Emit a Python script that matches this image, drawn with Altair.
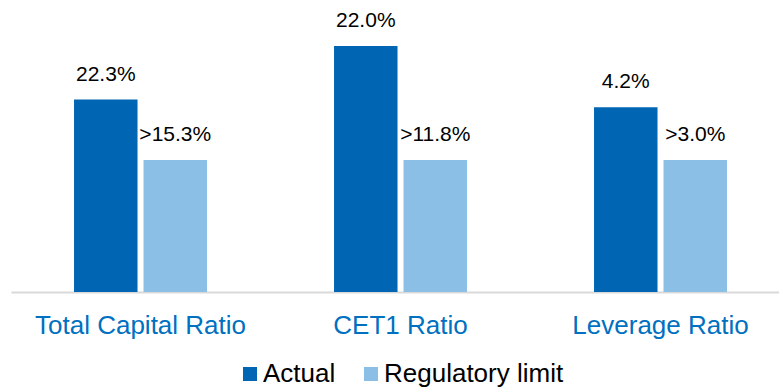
import altair as alt
import pandas as pd

# Capital ratios: actual level vs. regulatory minimum
categories = ["Total Capital Ratio", "CET1 Ratio", "Leverage Ratio"]
actual = [22.3, 22.0, 4.2]
regulatory_limit = [15.3, 11.8, 3.0]
series = ["Actual", "Regulatory limit"]

rows = []
for cat, a, r in zip(categories, actual, regulatory_limit):
    rows.append({"category": cat, "series": series[0], "value": a, "limit": r,
                 "label": f"{a:.1f}%"})
    rows.append({"category": cat, "series": series[1], "value": r, "limit": r,
                 "label": f">{r:.1f}%"})
df = pd.DataFrame(rows)

FONT = "Liberation Sans"

# Each group is scaled relative to its own regulatory minimum
base = alt.Chart(df).transform_calculate(rel="datum.value / datum.limit")

x_enc = alt.X("category:N", sort=categories, title=None,
              scale=alt.Scale(paddingInner=0.4885, paddingOuter=0.2212, align=0.548),
              axis=alt.Axis(labelAngle=0, labelFontSize=26, labelColor="#0070C0",
                            labelFont=FONT, labelPadding=20, labelLimit=0,
                            ticks=False, domainColor="#D9D9D9", domainWidth=2))
xo_enc = alt.XOffset("series:N", sort=series,
                     scale=alt.Scale(paddingInner=0.0863, paddingOuter=0))
y_enc = alt.Y("rel:Q", scale=alt.Scale(domain=[0, 2.2121], nice=False, zero=True),
              axis=None)

bars = base.mark_bar().encode(
    x=x_enc, xOffset=xo_enc, y=y_enc,
    color=alt.Color("series:N", sort=series, title=None,
                    scale=alt.Scale(domain=series, range=["#0066B3", "#8BBFE6"]),
                    legend=alt.Legend(orient="none", direction="horizontal",
                                      legendX=226, legendY=361, padding=0,
                                      symbolType="square", symbolSize=196,
                                      symbolStrokeWidth=0, labelFontSize=26,
                                      labelFont=FONT, labelColor="#000000",
                                      labelLimit=0, columnPadding=22,
                                      labelOffset=0)),
)

labels = base.mark_text(fontSize=21, font=FONT, color="#000000", dy=-19,
                        baseline="alphabetic").encode(
    x=x_enc, xOffset=xo_enc, y=y_enc, text="label:N"
)

chart = alt.layer(bars, labels).properties(
    width=768, height=292,
    autosize=alt.AutoSizeParams(type="none"),
    padding={"left": 11, "top": 0, "right": 0, "bottom": 95},
).configure(background="#FFFFFF").configure_view(stroke=None, strokeWidth=0)

chart.save("out.html", embed_options={"renderer": "svg", "actions": False})
